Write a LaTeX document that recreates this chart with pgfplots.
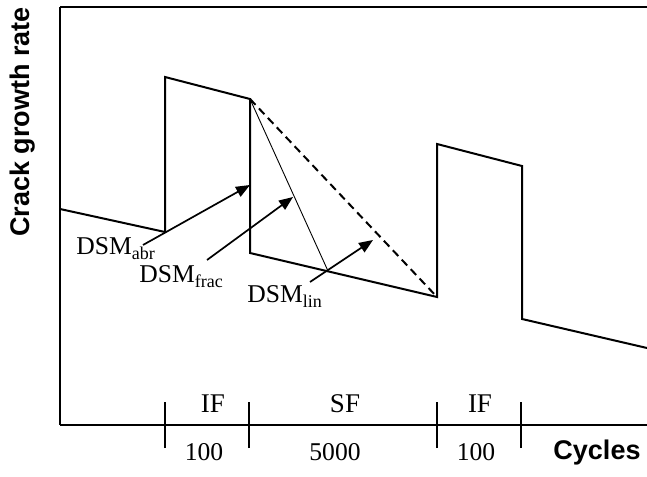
\documentclass[border=0pt]{standalone}
\usepackage{fontspec}
\setmainfont{Liberation Serif}
\setsansfont{Liberation Sans}
\usepackage{pgfplots}
\pgfplotsset{compat=1.18}
\usetikzlibrary{arrows.meta}

\newcommand{\sub}[1]{\raisebox{-2.5pt}{\fontsize{9}{10}\selectfont #1}}

\begin{document}
\begin{tikzpicture}
\begin{axis}[
    scale only axis,
    width=293.5pt, height=209pt,
    xmin=0, xmax=587, ymin=0, ymax=418,
    axis x line*=box, axis y line*=left,
    xtick pos=lower,
    axis line style={line width=0.9pt},
    xtick={105,189,377,461}, xticklabels={},
    ytick=\empty,
    tick align=center,
    major tick length=23pt,
    tick style={line width=0.8pt, black},
    clip=false,
    ylabel={Crack growth rate},
    ylabel style={at={(axis description cs:-0.063,0.725)}, anchor=center,
        font=\sffamily\bfseries\fontsize{13.5}{15}\selectfont},
]
% crack growth rate, schematic
\addplot[line width=1pt, black] coordinates {
    (0,216) (105,193) (105,348) (190,326) (190,172)
    (377,128) (377,281) (462,259) (462,106) (587,77)
};
% linear
\addplot[line width=1pt, black, dash pattern=on 4pt off 2.5pt] coordinates {(190,326) (377,128)};
% fractional
\addplot[line width=0.45pt, black] coordinates {(190,326) (268,154)};
% arrows
\addplot[line width=0.85pt, black, -{Triangle[length=7pt,width=5.5pt]}] coordinates {(83,180) (190,240)};
\addplot[line width=0.85pt, black, -{Triangle[length=7pt,width=5.5pt]}] coordinates {(147,165) (233,228)};
\addplot[line width=0.85pt, black, -{Triangle[length=7pt,width=5.5pt]}] coordinates {(250,143) (313,185)};

\node[anchor=base west, inner sep=0pt, font=\fontsize{12.8}{14}\selectfont] at (axis cs:16,170) {DSM\sub{abr}};
\node[anchor=base west, inner sep=0pt, font=\fontsize{12.8}{14}\selectfont] at (axis cs:79,142) {DSM\sub{frac}};
\node[anchor=base west, inner sep=0pt, font=\fontsize{12.8}{14}\selectfont] at (axis cs:187,122) {DSM\sub{lin}};

\node[anchor=base, font=\fontsize{13.5}{14}\selectfont] at (axis cs:153,12) {IF};
\node[anchor=base, font=\fontsize{13.5}{14}\selectfont] at (axis cs:285,12) {SF};
\node[anchor=base, font=\fontsize{13.5}{14}\selectfont] at (axis cs:420,12) {IF};
\node[anchor=base, font=\fontsize{12.8}{14}\selectfont] at (axis cs:144,-35) {100};
\node[anchor=base, font=\fontsize{12.8}{14}\selectfont] at (axis cs:275,-35) {5000};
\node[anchor=base, font=\fontsize{12.8}{14}\selectfont] at (axis cs:416,-35) {100};
\node[anchor=base, font=\sffamily\bfseries\fontsize{13.5}{15}\selectfont] at (axis cs:537,-34) {Cycles};
\end{axis}
\pgfresetboundingbox
\path[use as bounding box] ([shift={(-30pt,-25.5pt)}]current axis.south west) rectangle ([shift={(0pt,3.5pt)}]current axis.north east);
\end{tikzpicture}
\end{document}
